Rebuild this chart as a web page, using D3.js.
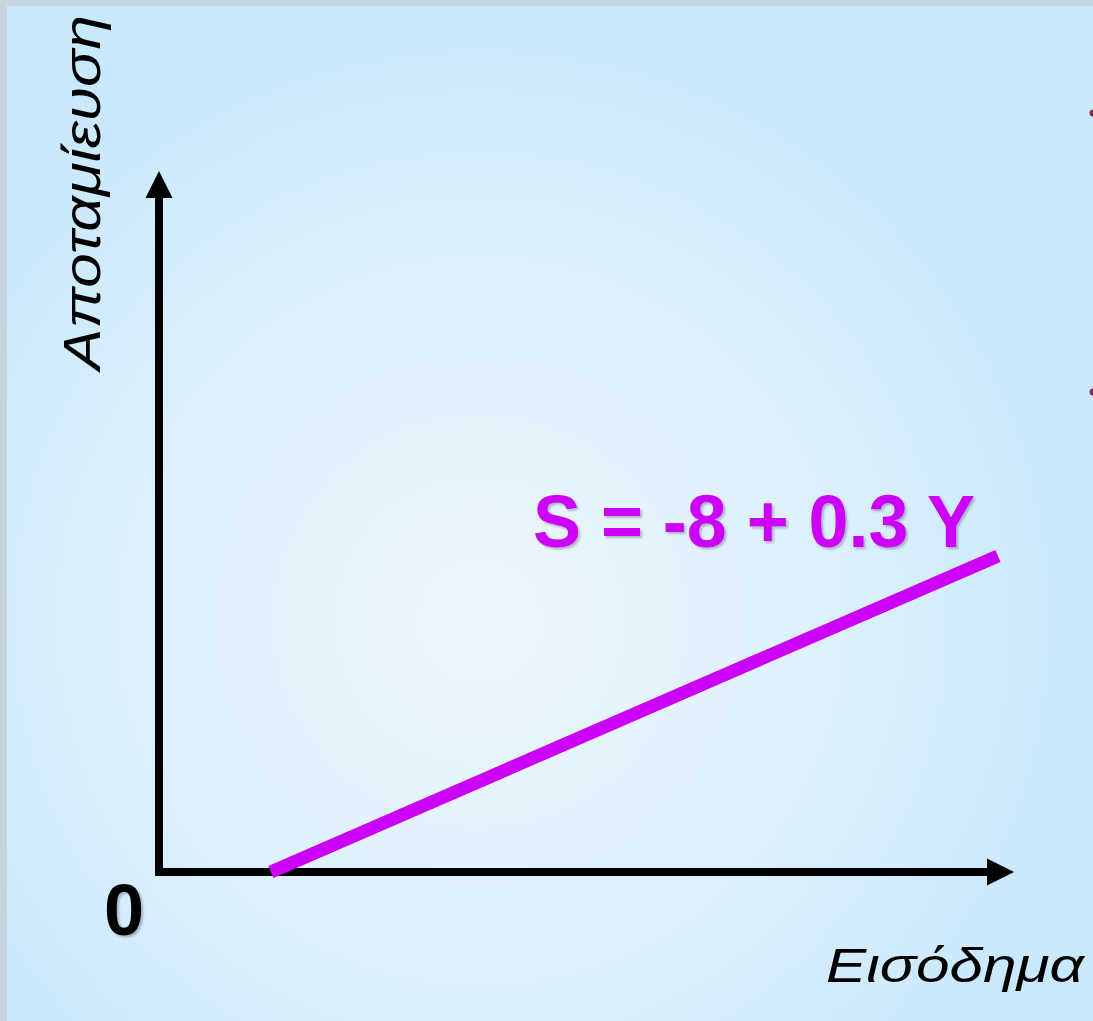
<!DOCTYPE html>
<html><head><meta charset="utf-8">
<script src="https://cdn.jsdelivr.net/npm/d3@7/dist/d3.min.js"></script>
<style>html,body{margin:0;padding:0;background:#c6d4dd;}svg{display:block;}</style>
</head><body>
<script>
// Data
const incomeDomain = [0, 200];
const savingsDomain = [0, 115];
const incomePoints = [26.67, 200];
const savingsPoints = [0, 52];
const equationLabel = "S = -8 + 0.3 Y";
const xAxisLabel = "Εισόδημα";
const yAxisLabel = "Αποταμίευση";
const originLabel = "0";

const W = 1093, H = 1021;
const svg = d3.select("body").append("svg").attr("width", W).attr("height", H);
const defs = svg.append("defs");

const grad = defs.append("radialGradient").attr("id", "bg")
  .attr("gradientUnits", "userSpaceOnUse")
  .attr("cx", 480).attr("cy", 620).attr("r", 640);
grad.append("stop").attr("offset", "0%").attr("stop-color", "#edf7fd");
grad.append("stop").attr("offset", "55%").attr("stop-color", "#dcf0fc");
grad.append("stop").attr("offset", "100%").attr("stop-color", "#c8e8fc");

const shadow = defs.append("filter").attr("id", "shadow").attr("x", "-10%").attr("y", "-10%").attr("width", "130%").attr("height", "130%");
shadow.append("feDropShadow").attr("dx", 2).attr("dy", 2).attr("stdDeviation", 1.2)
  .attr("flood-color", "#000").attr("flood-opacity", 0.25);

// border + background
svg.append("rect").attr("width", W).attr("height", H).attr("fill", "#c6d4dd");
svg.append("rect").attr("x", 7).attr("y", 6).attr("width", W - 7).attr("height", H - 6).attr("fill", "url(#bg)");

const x = d3.scaleLinear().domain(incomeDomain).range([159, 998]);
const y = d3.scaleLinear().domain(savingsDomain).range([872, 173]);

// arrow marker
const arrow = defs.append("marker").attr("id", "arr").attr("viewBox", "0 0 10 10")
  .attr("refX", 0).attr("refY", 5).attr("markerUnits", "userSpaceOnUse")
  .attr("markerWidth", 27).attr("markerHeight", 28).attr("orient", "auto");
arrow.append("path").attr("d", "M0,0 L10,5 L0,10 Z").attr("fill", "#000");

const axisColor = "#000";
// y axis
svg.append("line")
  .attr("x1", x(0)).attr("y1", y(0) + 4)
  .attr("x2", x(0)).attr("y2", y(savingsDomain[1]) + 25)
  .attr("stroke", axisColor).attr("stroke-width", 8)
  .attr("marker-end", "url(#arr)");
// x axis
svg.append("line")
  .attr("x1", x(0) - 4).attr("y1", y(0))
  .attr("x2", x(incomeDomain[1]) - 11).attr("y2", y(0))
  .attr("stroke", axisColor).attr("stroke-width", 8)
  .attr("marker-end", "url(#arr)");

// savings line
const lineData = incomePoints.map((v, i) => [v, savingsPoints[i]]);
svg.append("path")
  .datum(lineData)
  .attr("d", d3.line().x(d => x(d[0])).y(d => y(d[1])))
  .attr("stroke", "#cc00f7").attr("stroke-width", 13).attr("fill", "none")
  .attr("stroke-linecap", "butt");

// equation label
svg.append("text")
  .attr("x", 533).attr("y", 547)
  .attr("font-family", "Liberation Sans, Arial, sans-serif")
  .attr("font-weight", "bold").attr("font-size", 75)
  .attr("fill", "#cc00f7").attr("filter", "url(#shadow)")
  .attr("textLength", 442).attr("lengthAdjust", "spacingAndGlyphs")
  .text(equationLabel);

// origin label
svg.append("text")
  .attr("x", 104).attr("y", 935)
  .attr("font-family", "Liberation Sans, Arial, sans-serif")
  .attr("font-weight", "bold").attr("font-size", 72)
  .attr("fill", "#000").attr("filter", "url(#shadow)")
  .text(originLabel);

// x axis label
svg.append("text")
  .attr("x", 826).attr("y", 982)
  .attr("font-family", "Liberation Sans, Arial, sans-serif")
  .attr("font-style", "italic").attr("font-size", 49)
  .attr("fill", "#000")
  .attr("textLength", 258).attr("lengthAdjust", "spacingAndGlyphs")
  .text(xAxisLabel);

// y axis label
svg.append("text")
  .attr("transform", "translate(100,370) rotate(-90)")
  .attr("font-family", "Liberation Sans, Arial, sans-serif")
  .attr("font-style", "italic").attr("font-size", 52)
  .attr("fill", "#000")
  .attr("textLength", 355).attr("lengthAdjust", "spacingAndGlyphs")
  .text(yAxisLabel);

// bullet fragments at right edge
svg.selectAll("circle.bullet").data([113, 392]).enter().append("circle")
  .attr("class", "bullet").attr("cx", 1093).attr("cy", d => d).attr("r", 3.5)
  .attr("fill", "#8a2a55");
</script>
</body></html>
